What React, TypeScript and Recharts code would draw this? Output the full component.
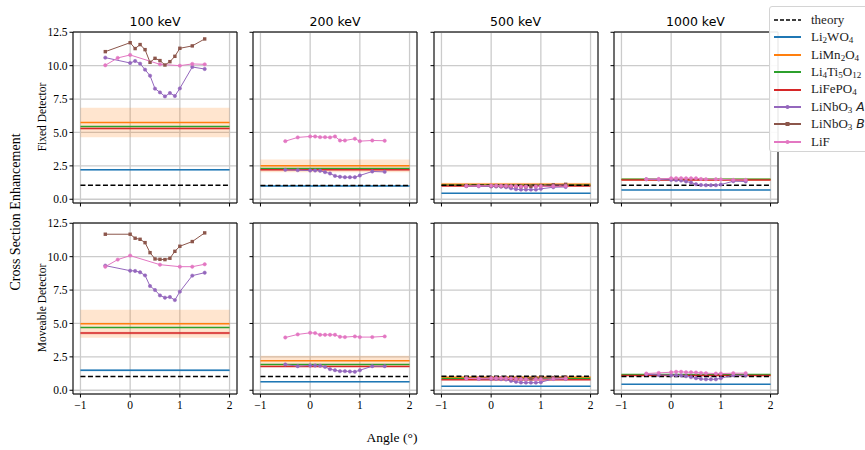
import React from "react";
import { LineChart, Line, XAxis, YAxis, CartesianGrid, ReferenceArea } from "recharts";

const ENERGIES = ["100 keV", "200 keV", "500 keV", "1000 keV"];
const ANGLE_TICKS = [-1, 0, 1, 2];
const ENH_TICKS = [0, 2.5, 5, 7.5, 10, 12.5];

// angle grids of the scans
const ANGLES_FINE = [-0.5, 0, 0.1, 0.2, 0.3, 0.4, 0.5, 0.6, 0.7, 0.8, 0.9, 1.0, 1.25, 1.5];
const ANGLES_FINE_B = [-0.5, -0.25, 0, 0.1, 0.2, 0.3, 0.4, 0.5, 0.6, 0.7, 0.8, 0.9, 1.0, 1.25, 1.5];
const ANGLES_COARSE = [-0.5, -0.25, 0, 0.6, 1.0, 1.25, 1.5];
const ANGLES_LIF = [-0.5, -0.25, 0, 0.1, 0.2, 0.3, 0.4, 0.5, 0.6, 0.7, 0.9, 1.0, 1.25, 1.5];

// flat values per energy (100, 200, 500, 1000 keV)
const THEORY_FIXED = [1.05, 1.03, 1.05, 1.05];
const THEORY_MOVE = [1.03, 1.03, 1.05, 1.03];
const LI2WO4_FIXED = [2.2, 1.0, 0.45, 0.7];
const LI2WO4_MOVE = [1.5, 0.63, 0.3, 0.45];
const LI2WO4_ERR_FIXED = [0.06, 0.04, 0.03, 0.03];
const LI2WO4_ERR_MOVE = [0.1, 0.04, 0.03, 0.03];
const LIMN2O4_FIXED = [5.75, 2.5, 1.12, 1.48];
const LIMN2O4_MOVE = [4.98, 2.2, 0.98, 1.15];
const LIMN2O4_ERR_FIXED = [1.1, 0.48, 0.12, 0.05];
const LIMN2O4_ERR_MOVE = [1.05, 0.38, 0.06, 0.05];
const LI4TI5O12_FIXED = [5.45, 2.3, 1.05, 1.5];
const LI4TI5O12_MOVE = [4.7, 1.93, 0.88, 1.18];
const LIFEPO4_FIXED = [5.3, 2.2, 1.0, 1.45];
const LIFEPO4_MOVE = [4.28, 1.78, 0.78, 1.1];
const LIFEPO4_ERR_FIXED = [0.06, 0.04, 0.03, 0.03];
const LIFEPO4_ERR_MOVE = [0.1, 0.04, 0.03, 0.03];

// angle scans per energy
const NBO3A_ANGLES = [ANGLES_FINE, ANGLES_FINE_B, ANGLES_FINE_B, ANGLES_FINE_B];
const NBO3A_FIXED = [
  [10.6, 10.2, 10.35, 10.15, 9.7, 9.25, 8.28, 8.0, 7.7, 7.95, 7.73, 8.3, 9.9, 9.75],
  [2.2, 2.18, 2.15, 2.15, 2.13, 2.03, 1.93, 1.75, 1.68, 1.65, 1.65, 1.65, 1.78, 2.08, 2.05],
  [0.98, 0.97, 0.95, 0.95, 0.93, 0.9, 0.82, 0.75, 0.72, 0.72, 0.72, 0.72, 0.78, 0.9, 0.92],
  [1.5, 1.48, 1.45, 1.43, 1.4, 1.33, 1.25, 1.13, 1.07, 1.05, 1.05, 1.05, 1.1, 1.35, 1.33],
];
const NBO3A_MOVE = [
  [9.33, 8.95, 8.93, 8.83, 8.6, 7.8, 7.5, 7.1, 6.93, 6.98, 6.75, 7.38, 8.58, 8.8],
  [1.93, 1.8, 1.85, 1.85, 1.83, 1.75, 1.58, 1.5, 1.43, 1.43, 1.4, 1.38, 1.5, 1.8, 1.8],
  [0.9, 0.85, 0.85, 0.85, 0.83, 0.8, 0.7, 0.63, 0.58, 0.57, 0.57, 0.57, 0.6, 0.85, 0.85],
  [1.2, 1.15, 1.12, 1.12, 1.1, 1.05, 0.98, 0.9, 0.85, 0.82, 0.82, 0.82, 0.9, 1.12, 1.12],
];
const NBO3B_ANGLES = [ANGLES_FINE, [], ANGLES_FINE, []];
const NBO3B_FIXED = [
  [11.05, 11.72, 11.28, 11.58, 11.2, 10.25, 10.55, 10.38, 10.05, 10.3, 10.7, 11.3, 11.48, 12.0],
  [],
  [1.02, 1.02, 1.02, 1.0, 1.0, 0.98, 0.97, 0.95, 0.95, 0.97, 1.0, 1.03, 1.08, 1.12],
  [],
];
const NBO3B_MOVE = [
  [11.68, 11.68, 11.38, 11.3, 11.05, 10.3, 9.83, 9.8, 9.78, 9.88, 10.4, 10.78, 11.13, 11.78],
  [],
  [0.92, 0.92, 0.92, 0.9, 0.9, 0.88, 0.87, 0.85, 0.85, 0.87, 0.9, 0.92, 0.95, 0.98],
  [],
];
const LIF_ANGLES = [ANGLES_COARSE, ANGLES_LIF, ANGLES_LIF, ANGLES_LIF];
const LIF_FIXED = [
  [10.03, 10.58, 10.8, 10.1, 10.0, 10.13, 10.1],
  [4.35, 4.63, 4.7, 4.7, 4.65, 4.65, 4.63, 4.7, 4.4, 4.4, 4.53, 4.35, 4.4, 4.38],
  [1.0, 1.0, 1.02, 1.02, 1.0, 1.0, 0.98, 0.97, 0.95, 0.95, 0.95, 0.97, 0.98, 1.0],
  [1.5, 1.52, 1.57, 1.58, 1.58, 1.57, 1.57, 1.57, 1.52, 1.5, 1.5, 1.48, 1.45, 1.45],
];
const LIF_MOVE = [
  [9.25, 9.78, 10.08, 9.4, 9.25, 9.25, 9.43],
  [3.95, 4.18, 4.3, 4.28, 4.15, 4.15, 4.15, 4.15, 4.0, 3.98, 4.03, 3.98, 3.98, 4.03],
  [0.88, 0.88, 0.9, 0.9, 0.9, 0.88, 0.88, 0.85, 0.83, 0.82, 0.82, 0.82, 0.85, 0.88],
  [1.25, 1.3, 1.35, 1.38, 1.38, 1.35, 1.35, 1.33, 1.3, 1.28, 1.25, 1.25, 1.28, 1.28],
];

const C = {
  blue: "#1f77b4",
  orange: "#ff7f0e",
  green: "#2ca02c",
  red: "#d62728",
  purple: "#9467bd",
  brown: "#8c564b",
  pink: "#e377c2",
};

const SERIF = '"Liberation Serif", "DejaVu Serif", serif';
const SANS = '"DejaVu Sans", "Liberation Sans", sans-serif';

// layout
const COL_LEFT = [73, 253, 433.5, 613.5];
const ROW_TOP = [32, 223];
const PLOT_W = 164;
const PLOT_H = 171;
const Y_AXIS_W = 45;
const X_AXIS_H = 26;
const PAD_TOP = 5;
const PAD_RIGHT = 6;
const X_DOMAIN: [number, number] = [-1.15, 2.15];
const Y_DOMAIN: [number, number] = [-0.28, 12.52];

const seg = (v: number) => [
  { x: -1, y: v },
  { x: 2, y: v },
];
const scan = (xs: number[], ys: number[]) => xs.map((x, i) => ({ x, y: ys[i] }));
const fmtX = (v: number) => (v < 0 ? "\u2212" + Math.abs(v) : String(v));

const squareDot = (color: string) => (p: any) =>
  <rect key={`sq-${p.index}`} x={p.cx - 1.7} y={p.cy - 1.7} width={3.4} height={3.4} fill={color} />;

function Panel({ row, col }: { row: number; col: number }) {
  const fixed = row === 0;
  const pick = (f: number[], m: number[]) => (fixed ? f : m)[col];
  const pickS = (f: number[][], m: number[][]) => (fixed ? f : m)[col];
  const bands = [
    { v: pick(LI2WO4_FIXED, LI2WO4_MOVE), e: pick(LI2WO4_ERR_FIXED, LI2WO4_ERR_MOVE), c: C.blue },
    { v: pick(LIMN2O4_FIXED, LIMN2O4_MOVE), e: pick(LIMN2O4_ERR_FIXED, LIMN2O4_ERR_MOVE), c: C.orange },
    { v: pick(LIFEPO4_FIXED, LIFEPO4_MOVE), e: pick(LIFEPO4_ERR_FIXED, LIFEPO4_ERR_MOVE), c: C.red },
  ];
  const flats = [
    { v: pick(LI2WO4_FIXED, LI2WO4_MOVE), c: C.blue },
    { v: pick(LIMN2O4_FIXED, LIMN2O4_MOVE), c: C.orange },
    { v: pick(LI4TI5O12_FIXED, LI4TI5O12_MOVE), c: C.green },
    { v: pick(LIFEPO4_FIXED, LIFEPO4_MOVE), c: C.red },
  ];
  const aData = scan(NBO3A_ANGLES[col], pickS(NBO3A_FIXED, NBO3A_MOVE));
  const bData = scan(NBO3B_ANGLES[col], pickS(NBO3B_FIXED, NBO3B_MOVE));
  const fData = scan(LIF_ANGLES[col], pickS(LIF_FIXED, LIF_MOVE));
  const tick = { fontSize: 11.5, fill: "#000", fontFamily: SERIF };

  return (
    <div style={{ position: "absolute", left: COL_LEFT[col] - Y_AXIS_W, top: ROW_TOP[row] - PAD_TOP }}>
      <LineChart
        width={Y_AXIS_W + PLOT_W + PAD_RIGHT}
        height={PAD_TOP + PLOT_H + X_AXIS_H}
        margin={{ top: PAD_TOP, right: PAD_RIGHT, bottom: 0, left: 0 }}
      >
        <CartesianGrid stroke="#cbcbcb" strokeWidth={1.3} />
        <XAxis
          type="number"
          dataKey="x"
          domain={X_DOMAIN}
          ticks={ANGLE_TICKS}
          allowDataOverflow
          interval={0}
          height={X_AXIS_H}
          tickSize={3.5}
          tickMargin={3}
          axisLine={false}
          tickLine={{ stroke: "#000" }}
          tick={tick}
          tickFormatter={row === 1 ? fmtX : () => ""}
        />
        <YAxis
          type="number"
          domain={Y_DOMAIN}
          ticks={ENH_TICKS}
          allowDataOverflow
          interval={0}
          width={Y_AXIS_W}
          tickSize={3.5}
          tickMargin={2}
          axisLine={false}
          tickLine={{ stroke: "#000" }}
          tick={tick}
          tickFormatter={col === 0 ? (v: number) => v.toFixed(1) : () => ""}
        />
        {bands.map((b, i) => (
          <ReferenceArea
            key={`band-${i}`}
            x1={-1}
            x2={2}
            y1={b.v - b.e}
            y2={b.v + b.e}
            fill={b.c}
            fillOpacity={0.2}
            stroke="none"
            ifOverflow="visible"
          />
        ))}
        {flats.map((f, i) => (
          <Line
            key={`flat-${i}`}
            data={seg(f.v)}
            dataKey="y"
            stroke={f.c}
            strokeWidth={1.5}
            dot={false}
            isAnimationActive={false}
          />
        ))}
        <Line
          data={seg(pick(THEORY_FIXED, THEORY_MOVE))}
          dataKey="y"
          stroke="#000"
          strokeWidth={1.4}
          strokeDasharray="5 2.5"
          dot={false}
          isAnimationActive={false}
        />
        <Line
          data={aData}
          dataKey="y"
          stroke={C.purple}
          strokeWidth={1}
          dot={{ r: 1.7, fill: C.purple, stroke: C.purple, strokeWidth: 0.5 }}
          isAnimationActive={false}
        />
        {bData.length > 0 ? (
          <Line
            data={bData}
            dataKey="y"
            stroke={C.brown}
            strokeWidth={1}
            dot={squareDot(C.brown)}
            isAnimationActive={false}
          />
        ) : null}
        <Line
          data={fData}
          dataKey="y"
          stroke={C.pink}
          strokeWidth={1}
          dot={{ r: 1.7, fill: C.pink, stroke: C.pink, strokeWidth: 0.5 }}
          isAnimationActive={false}
        />
        <ReferenceArea
          x1={X_DOMAIN[0]}
          x2={X_DOMAIN[1]}
          y1={Y_DOMAIN[0]}
          y2={Y_DOMAIN[1]}
          fill="none"
          stroke="#000"
          strokeWidth={1}
          ifOverflow="visible"
        />
      </LineChart>
    </div>
  );
}

// legend entries
const LEGEND = [
  { name: "theory", color: "#000", dash: true, marker: "" },
  { name: "Li2WO4", color: C.blue, dash: false, marker: "" },
  { name: "LiMn2O4", color: C.orange, dash: false, marker: "" },
  { name: "Li4Ti5O12", color: C.green, dash: false, marker: "" },
  { name: "LiFePO4", color: C.red, dash: false, marker: "" },
  { name: "LiNbO3 A", color: C.purple, dash: false, marker: "dot" },
  { name: "LiNbO3 B", color: C.brown, dash: false, marker: "square" },
  { name: "LiF", color: C.pink, dash: false, marker: "dot" },
];

function Chem({ name }: { name: string }) {
  const [formula, tag] = name.split(" ");
  const parts = formula.split(/(\d+)/).filter((s) => s.length > 0);
  return (
    <span>
      {parts.map((p, i) =>
        /^\d+$/.test(p) ? (
          <sub key={i} style={{ fontSize: "0.7em", verticalAlign: "-0.25em" }}>
            {p}
          </sub>
        ) : (
          <span key={i}>{p}</span>
        ),
      )}
      {tag ? <span style={{ fontFamily: SANS, fontStyle: "italic", fontSize: "0.95em" }}> {tag}</span> : null}
    </span>
  );
}

function LegendBox() {
  return (
    <div
      style={{
        position: "absolute",
        left: 769,
        top: 6,
        width: 110,
        height: 146,
        border: "1px solid #d4d4d4",
        borderRadius: 3,
        background: "rgba(255,255,255,0.9)",
        boxSizing: "border-box",
      }}
    >
      {LEGEND.map((e, i) => (
        <div
          key={e.name}
          style={{
            position: "absolute",
            left: 3,
            top: 13 + i * 17.4 - 9,
            height: 18,
            display: "flex",
            alignItems: "center",
            whiteSpace: "nowrap",
            fontFamily: SERIF,
            fontSize: 13,
            color: "#222",
          }}
        >
          <svg width={30} height={10} style={{ marginRight: 8 }}>
            <line
              x1={1}
              x2={28}
              y1={5}
              y2={5}
              stroke={e.color}
              strokeWidth={e.dash ? 1.6 : 2}
              strokeDasharray={e.dash ? "4 2" : undefined}
            />
            {e.marker === "dot" ? <circle cx={14.5} cy={5} r={2} fill={e.color} /> : null}
            {e.marker === "square" ? <rect x={12.5} y={3} width={4} height={4} fill={e.color} /> : null}
          </svg>
          <Chem name={e.name} />
        </div>
      ))}
    </div>
  );
}

export default function App() {
  const label = (text: string, cx: number, cy: number, size: number, rotate: boolean) => (
    <div
      style={{
        position: "absolute",
        left: cx,
        top: cy,
        transform: `translate(-50%, -50%)${rotate ? " rotate(-90deg)" : ""}`,
        whiteSpace: "nowrap",
        fontFamily: SERIF,
        fontSize: size,
        color: "#000",
      }}
    >
      {text}
    </div>
  );
  return (
    <div
      style={{
        position: "absolute",
        left: 0,
        top: 0,
        width: 865,
        height: 450,
        background: "#fff",
        overflow: "hidden",
      }}
    >
      {ENERGIES.map((e, i) => (
        <div
          key={e}
          style={{
            position: "absolute",
            left: COL_LEFT[i] + PLOT_W / 2,
            top: 21,
            transform: "translate(-50%, -50%)",
            fontFamily: SANS,
            fontSize: 12.5,
            whiteSpace: "nowrap",
          }}
        >
          {e}
        </div>
      ))}
      {[0, 1].map((r) => [0, 1, 2, 3].map((c) => <Panel key={`${r}-${c}`} row={r} col={c} />))}
      {label("Cross Section Enhancement", 16, 212, 14, true)}
      {label("Fixed Detector", 42, 117, 11.5, true)}
      {label("Moveable Detector", 42, 308, 11.5, true)}
      {label("Angle (\u00b0)", 392, 438, 13.5, false)}
      <LegendBox />
    </div>
  );
}
